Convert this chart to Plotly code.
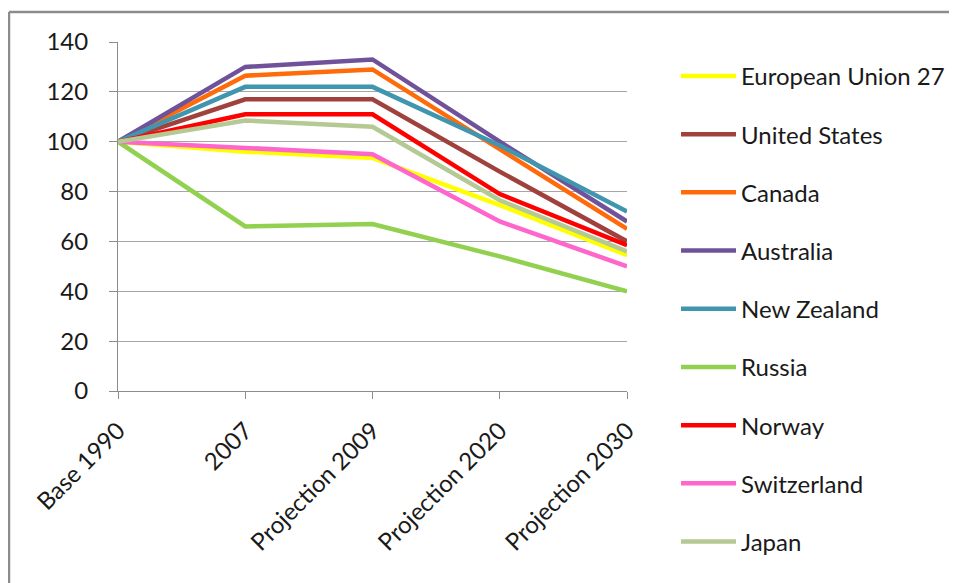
import plotly.graph_objects as go

categories = ["Base 1990", "2007", "Projection 2009", "Projection 2020", "Projection 2030"]

eu27 = [100, 96, 93.5, 74.6, 54.5]
united_states = [100, 117, 117, 88, 60]
canada = [100, 126.5, 129, 97, 65]
australia = [100, 130, 133, 100, 68]
new_zealand = [100, 122, 122, 98.5, 72]
russia = [100, 66, 67, 54, 40]
norway = [100, 111, 111, 79, 58.5]
switzerland = [100, 97.5, 95, 68, 50]
japan = [100, 108.5, 106, 76.5, 56]

series = [
    ("European Union 27", eu27, "#FFFF00"),
    ("United States", united_states, "#A0413E"),
    ("Canada", canada, "#FF6A0A"),
    ("Australia", australia, "#70529A"),
    ("New Zealand", new_zealand, "#3F96AE"),
    ("Russia", russia, "#92D050"),
    ("Norway", norway, "#FF0000"),
    ("Switzerland", switzerland, "#FF66CC"),
    ("Japan", japan, "#B4C994"),
]

fig = go.Figure()
for name, vals, color in series:
    fig.add_trace(go.Scatter(
        x=categories, y=vals, name=name, mode="lines",
        line=dict(color=color, width=4.5),
        legendgroup=name,
    ))

font_family = "Lato, 'Open Sans', sans-serif"
W, H = 957, 583
L, R, T, B = 110, 338, 34, 200

fig.update_layout(
    width=W, height=H,
    margin=dict(l=L, r=R, t=T, b=B, pad=0),
    paper_bgcolor="white", plot_bgcolor="white",
    font=dict(family=font_family, size=24, color="#1a1a1a"),
    showlegend=True,
    legend=dict(
        x=1.0963, y=0.966, xanchor="left", yanchor="top",
        traceorder="grouped", tracegroupgap=24,
        font=dict(size=24, family=font_family, color="#1a1a1a"),
        itemwidth=55, bgcolor="rgba(0,0,0,0)", maxheight=700,
    ),
    xaxis=dict(
        type="category", range=[0, 4],
        showgrid=False, showline=True, linecolor="#8c8c8c", linewidth=1,
        ticks="outside", ticklen=7, tickcolor="#8c8c8c",
        tickangle=-45, tickfont=dict(size=24), ticklabelstandoff=8,
    ),
    yaxis=dict(
        range=[0, 140], dtick=20,
        showgrid=True, gridcolor="#a6a6a6", gridwidth=1,
        showline=True, linecolor="#8c8c8c", linewidth=1,
        ticks="outside", ticklen=8, tickcolor="#8c8c8c",
        tickfont=dict(size=24), zeroline=False, ticklabelstandoff=16,
    ),
)

pw = W - L - R
ph = H - T - B
bx = (1 - L) / pw
by = (H - B - 4) / ph
fig.add_shape(type="line", xref="paper", yref="paper",
              x0=bx, x1=bx, y0=-0.7, y1=by,
              line=dict(color="#8c8c8c", width=2.5))
fig.add_shape(type="line", xref="paper", yref="paper",
              x0=bx, x1=1.9, y0=by, y1=by,
              line=dict(color="#8c8c8c", width=2.5))

fig.write_html("out.html")
